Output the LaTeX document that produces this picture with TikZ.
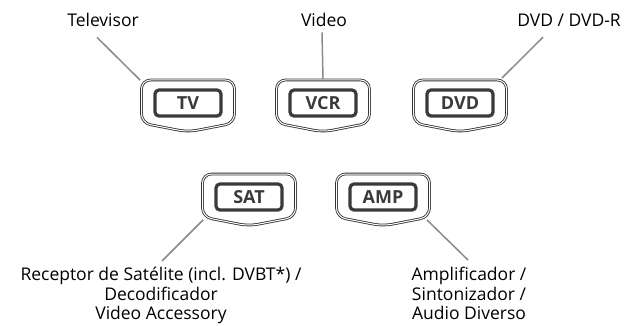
\documentclass[tikz,border=0pt]{standalone}
\usepackage{fontspec}
\setmainfont{Open Sans}
\usepackage{xcolor}
\usepackage{tikz}
\usetikzlibrary{calc,positioning}

\definecolor{keygray}{HTML}{3A3A3A}
\definecolor{leadgray}{HTML}{8A8A8A}

\tikzset{
  keycap/.style={draw=keygray, line width=3.2pt, rounded corners=4pt,
    minimum width=66pt, minimum height=26pt, inner sep=0pt,
    text=keygray, font=\fontsize{18}{20}\selectfont\bfseries},
  keyrim/.style={draw=black!80, double=white, double distance=1pt,
    line width=0.85pt, rounded corners=9pt},
  leader/.style={draw=leadgray, line width=1.5pt},
  caption/.style={font=\fontsize{17.5}{19.5}\selectfont, inner sep=0pt, align=center}
}

\begin{document}
\begin{tikzpicture}[x=1pt,y=-1pt]
\useasboundingbox (0,0) rectangle (628,326);
% the five source keys
\foreach \n/\x/\y/\t in {tv/188/103/TV, vcr/323/103/VCR, dvd/460/103/DVD,
                         sat/249/197/SAT, amp/383/197/AMP}{
  \draw[keyrim] (\x,\y-23) -- (\x+46.5,\y-23) -- (\x+46.5,\y+20)
    -- (\x,\y+29) -- (\x-46.5,\y+20) -- (\x-46.5,\y-23) -- cycle;
  \node[keycap] (\n) at (\x,\y) {\t};
  \coordinate (\n-nw) at (\x-48,\y-23);
  \coordinate (\n-n) at (\x,\y-24);
  \coordinate (\n-ne) at (\x+42,\y-25);
  \coordinate (\n-sw) at (\x-46,\y+23);
  \coordinate (\n-se) at (\x+44,\y+23);
}

% captions
\node[caption, anchor=base] (televisor) at (103,27) {Televisor};
\node[caption, anchor=base] (video) at (324,27) {Video};
\node[caption, anchor=base] (dvdr) at (569,27) {DVD / DVD-R};
\node[caption, anchor=north] (receptor) at (161,267)
  {Receptor de Satélite (incl. DVBT*) /\\Decodificador\\Video Accessory};
\node[caption, anchor=north] (amplificador) at (469,267)
  {Amplificador /\\Sintonizador /\\Audio Diverso};

% leader lines
\draw[leader] ($(televisor.south)+(-6,10)$) -- (tv-nw);
\draw[leader] ($(video.south)+(-2,5)$) -- (vcr-n);
\draw[leader] ($(dvdr.south)+(-26,10)$) -- (dvd-ne);
\draw[leader] ($(receptor.north)+(1,-6)$) -- (sat-sw);
\draw[leader] ($(amplificador.north)+(-1,-7)$) -- (amp-se);
\end{tikzpicture}
\end{document}
